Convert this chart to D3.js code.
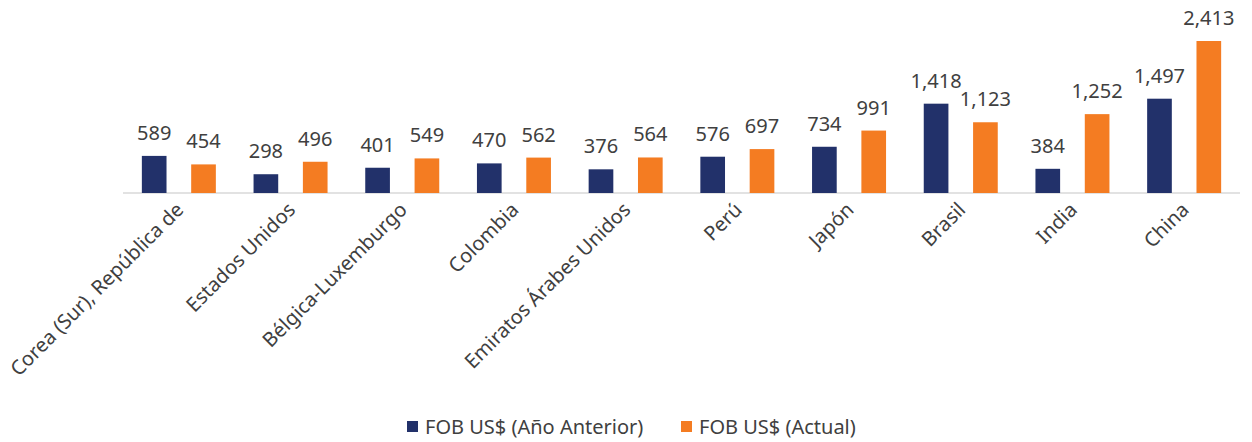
<!DOCTYPE html>
<html>
<head>
<meta charset="utf-8">
<script src="https://cdn.jsdelivr.net/npm/d3@7"></script>
<style>
  body { margin: 0; background: #fff; }
  text { font-family: "Noto Sans", Lato, sans-serif; fill: #404040; }
</style>
</head>
<body>
<div id="chart"></div>
<script>
var paises = ["Corea (Sur), República de", "Estados Unidos", "Bélgica-Luxemburgo", "Colombia",
  "Emiratos Árabes Unidos", "Perú", "Japón", "Brasil", "India", "China"];
var anterior = [589, 298, 401, 470, 376, 576, 734, 1418, 384, 1497];
var actual = [454, 496, 549, 562, 564, 697, 991, 1123, 1252, 2413];
var series = ["FOB US$ (Año Anterior)", "FOB US$ (Actual)"];
var colores = ["#22316a", "#f47c22"];

var margin = {top: 41, right: 12, bottom: 249, left: 123};
var width = 1252 - margin.left - margin.right;
var height = 442 - margin.top - margin.bottom;

var svg = d3.select("#chart")
  .append("svg")
    .attr("width", 1252)
    .attr("height", 442)
  .append("g")
    .attr("transform", "translate(" + margin.left + "," + margin.top + ")");

var x = d3.scaleBand()
  .domain(paises)
  .range([0, width]);

var xs = d3.scaleBand()
  .domain([0, 1])
  .range([x.bandwidth() / 2 - 37, x.bandwidth() / 2 + 37])
  .paddingInner(0.5);

var y = d3.scaleLinear()
  .domain([0, 2413])
  .range([height, 0]);

// eje
svg.append("line")
  .attr("x1", 0).attr("x2", width)
  .attr("y1", height).attr("y2", height)
  .attr("stroke", "#d9d9d9")
  .attr("stroke-width", 1.5);

[anterior, actual].forEach(function(vals, s) {
  var g = svg.append("g");
  g.selectAll("rect")
    .data(vals)
    .enter().append("rect")
      .attr("x", function(d, i) { return x(paises[i]) + xs(s); })
      .attr("y", function(d) { return y(d); })
      .attr("width", xs.bandwidth())
      .attr("height", function(d) { return height - y(d); })
      .attr("fill", colores[s]);
  g.selectAll("text")
    .data(vals)
    .enter().append("text")
      .attr("x", function(d, i) { return x(paises[i]) + xs(s) + xs.bandwidth() / 2; })
      .attr("y", function(d) { return y(d) - 16; })
      .attr("text-anchor", "middle")
      .style("font-size", "20px")
      .text(function(d) { return d3.format(",")(d); });
});

// etiquetas de categoria
svg.selectAll(".cat")
  .data(paises)
  .enter().append("text")
    .attr("class", "cat")
    .attr("transform", function(d) {
      return "translate(" + (x(d) + x.bandwidth() / 2 + 6) + "," + (height + 18) + ") rotate(-45)";
    })
    .attr("text-anchor", "end")
    .style("font-size", "20px")
    .text(function(d) { return d; });

// leyenda
var leg = d3.select("svg").append("g");
var legX = [407, 681];
series.forEach(function(s, i) {
  leg.append("rect")
    .attr("x", legX[i]).attr("y", 421)
    .attr("width", 11).attr("height", 11)
    .attr("fill", colores[i]);
  leg.append("text")
    .attr("x", legX[i] + 18).attr("y", 434)
    .style("font-size", "20px")
    .text(s);
});
</script>
</body>
</html>
